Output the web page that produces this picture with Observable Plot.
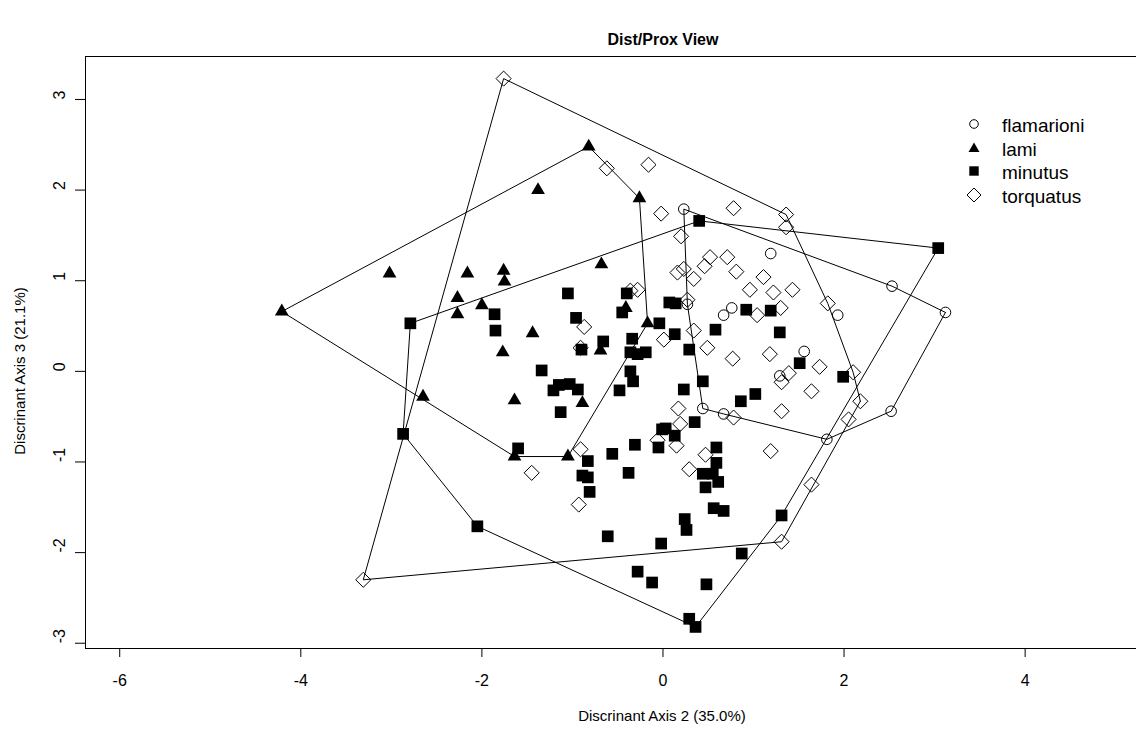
<!DOCTYPE html>
<html>
<head>
<meta charset="utf-8">
<script src="https://cdn.jsdelivr.net/npm/d3@7"></script>
<script src="https://cdn.jsdelivr.net/npm/@observablehq/plot@0.6"></script>
<style>
  html, body { margin: 0; padding: 0; background: #fff; }
  body { font-family: "Liberation Sans", Arial, Helvetica, sans-serif; color: #000; }
  #wrap { position: relative; width: 1136px; height: 733px; overflow: hidden; }
  #title { position: absolute; left: 463px; width: 400px; top: 30px; text-align: center;
           font-weight: bold; font-size: 16px; line-height: 20px; }
  #xtitle { position: absolute; left: 462px; width: 400px; top: 706px; text-align: center;
            font-size: 15px; line-height: 20px; }
  #ytitle { position: absolute; left: 20px; top: 371px; white-space: nowrap;
            transform: translate(-50%, -50%) rotate(-90deg); font-size: 15px; line-height: 20px; }
  .lg { position: absolute; left: 964px; height: 24px; line-height: 24px; font-size: 19px; white-space: nowrap; }
  .lg svg { position: absolute; left: 0; top: 0; }
  .lg span { position: absolute; left: 38px; top: 2px; }
</style>
</head>
<body>
<div id="wrap">
  <div id="chart"></div>
  <div id="title"></div>
  <div id="xtitle"></div>
  <div id="ytitle"></div>
  <div id="legend"></div>
</div>
<script>
// ---- data (Discriminant Axis 2 = x, Discriminant Axis 3 = y) ----
const titleText = "Dist/Prox View";
const xLabel = "Discrinant Axis 2 (35.0%)";
const yLabel = "Discrinant Axis 3 (21.1%)";
const speciesNames = ["flamarioni", "lami", "minutus", "torquatus"];
const xTicks = [-6, -4, -2, 0, 2, 4];
const yTicks = [-3, -2, -1, 0, 1, 2, 3];
const xDomain = [-6.378, 5.23];
const yDomain = [-3.058, 3.474];

const flamarioniX = [0.23, 1.19, 2.53, 3.12, 1.93, 0.27, 0.67, 0.76, 1.56, 1.29, 0.44, 0.67, 1.81, 2.52];
const flamarioniY = [1.79, 1.30, 0.94, 0.65, 0.62, 0.74, 0.62, 0.70, 0.22, -0.05, -0.41, -0.47, -0.75, -0.44];

const lamiX = [-4.21, -3.02, -2.16, -1.76, -1.75, -2.27, -2.27, -2.00, -1.38, -0.82, -0.26, -0.68, -0.41, -0.17, -0.69, -0.89, -1.05, -1.44, -1.77, -2.65, -1.64, -1.64];
const lamiY = [0.66, 1.08, 1.08, 1.11, 0.99, 0.81, 0.63, 0.73, 2.00, 2.48, 1.91, 1.18, 0.70, 0.53, 0.23, -0.35, -0.94, 0.42, 0.21, -0.28, -0.32, -0.94];

const minutusX = [0.40, 3.04, -1.05, -0.40, 0.07, 0.14, 0.92, 1.19, -0.45, -0.04, -0.96, -0.34, -0.66, 0.13, 0.58, 1.29, -0.90, -0.36, -0.28, -0.19, 0.29, 1.51, -1.34, -0.36, -0.33, 1.99, -1.21, -1.15, -1.03, -0.94, -0.48, 0.44, 0.23, -1.13, 0.86, 1.02, 0.35, -0.01, 0.03, 0.13, -0.05, -0.31, -0.56, -0.83, 0.59, 0.59, -0.38, -0.89, -0.83, 0.44, 0.55, 0.61, 0.47, -0.81, 0.56, 0.67, 1.31, 0.24, 0.26, -0.61, -0.02, 0.87, -0.28, -0.12, 0.48, 0.29, 0.36, -2.79, -1.86, -1.85, -2.87, -1.60, -2.05];
const minutusY = [1.66, 1.36, 0.86, 0.86, 0.76, 0.75, 0.68, 0.67, 0.65, 0.53, 0.59, 0.36, 0.33, 0.41, 0.46, 0.43, 0.24, 0.21, 0.19, 0.21, 0.24, 0.09, 0.01, 0.00, -0.11, -0.06, -0.21, -0.15, -0.14, -0.20, -0.21, -0.11, -0.20, -0.45, -0.33, -0.25, -0.56, -0.64, -0.63, -0.71, -0.84, -0.81, -0.91, -0.99, -0.84, -1.01, -1.12, -1.15, -1.17, -1.13, -1.13, -1.22, -1.28, -1.33, -1.51, -1.54, -1.59, -1.63, -1.75, -1.82, -1.90, -2.01, -2.21, -2.33, -2.35, -2.73, -2.82, 0.53, 0.63, 0.45, -0.69, -0.85, -1.71];

const torquatusX = [-1.76, -0.62, -0.16, -0.02, 0.78, 1.36, 1.36, 0.20, 0.52, 0.71, 0.46, 0.23, 0.16, 0.81, 0.34, 1.11, 0.96, 1.22, 1.43, 1.82, -0.36, -0.28, 0.27, 1.30, 1.04, -0.87, 0.01, 0.34, -0.91, 0.49, 0.77, 1.18, 1.73, 1.39, 1.31, 1.64, 0.17, 0.78, 1.31, 0.19, -0.06, 0.15, -0.91, 1.19, 0.47, 0.29, 1.64, -0.93, 1.31, 2.10, 2.18, 2.05, -1.45, -3.31];
const torquatusY = [3.23, 2.24, 2.28, 1.74, 1.80, 1.73, 1.59, 1.49, 1.26, 1.26, 1.16, 1.13, 1.09, 1.10, 1.02, 1.04, 0.90, 0.87, 0.90, 0.75, 0.89, 0.90, 0.79, 0.70, 0.62, 0.49, 0.35, 0.45, 0.26, 0.26, 0.14, 0.19, 0.05, -0.02, -0.12, -0.22, -0.41, -0.51, -0.44, -0.58, -0.76, -0.82, -0.86, -0.88, -0.92, -1.08, -1.25, -1.47, -1.88, -0.01, -0.33, -0.53, -1.12, -2.30];

// ---- build tables ----
const groups = [
  [speciesNames[0], flamarioniX, flamarioniY],
  [speciesNames[1], lamiX, lamiY],
  [speciesNames[2], minutusX, minutusY],
  [speciesNames[3], torquatusX, torquatusY]
];
const points = groups.flatMap(([s, xs, ys]) => xs.map((x, i) => ({species: s, x, y: ys[i]})));
const hullRows = groups.flatMap(([s, xs, ys]) => {
  const h = d3.polygonHull(xs.map((x, i) => [x, ys[i]]));
  h.push(h[0]);
  return h.map(([x, y]) => ({species: s, x, y}));
});
const bySpecies = s => points.filter(d => d.species === s);

const font = "'Liberation Sans', Arial, Helvetica, sans-serif";
const chart = Plot.plot({
  width: 1136,
  height: 733,
  marginLeft: 85,
  marginRight: 0,
  marginTop: 56,
  marginBottom: 85,
  x: {domain: xDomain},
  y: {domain: yDomain},
  style: {fontFamily: font, fontSize: "16px", color: "#000", background: "#fff", overflow: "visible"},
  marks: [
    Plot.ruleY([yDomain[0], yDomain[1]], {stroke: "#000", strokeWidth: 1}),
    Plot.ruleX([xDomain[0]], {stroke: "#000", strokeWidth: 1}),
    Plot.axisX(xTicks, {tickSize: 9, tickPadding: 17, tickFormat: d => String(d), fontSize: 16, label: null, stroke: "#000"}),
    Plot.axisY(yTicks, {tickSize: 10, tickFormat: () => "", label: null, stroke: "#000"}),
    Plot.text(yTicks, {y: d => d, frameAnchor: "left", rotate: -90, dx: -26, text: d => String(d), fontSize: 16, fill: "#000"}),
    Plot.line(hullRows, {x: "x", y: "y", z: "species", stroke: "#000", strokeWidth: 1}),
    Plot.dot(bySpecies("flamarioni"), {x: "x", y: "y", symbol: "circle", r: 5.3, fill: "none", stroke: "#000", strokeWidth: 1}),
    Plot.dot(bySpecies("torquatus"), {x: "x", y: "y", symbol: "diamond2", r: 6.8, fill: "none", stroke: "#000", strokeWidth: 1}),
    Plot.dot(bySpecies("lami"), {x: "x", y: "y", symbol: "triangle", r: 5.1, fill: "#000", stroke: "none"}),
    Plot.dot(bySpecies("minutus"), {x: "x", y: "y", symbol: "square", r: 6.6, fill: "#000", stroke: "none"})
  ]
});
document.getElementById("chart").appendChild(chart);

document.getElementById("title").textContent = titleText;
document.getElementById("xtitle").textContent = xLabel;
document.getElementById("ytitle").textContent = yLabel;

// ---- legend ----
const legendSymbols = [
  '<circle cx="10" cy="12" r="4.3" fill="none" stroke="#000" stroke-width="1"/>',
  '<path d="M10,6.5 L15.5,16 L4.5,16 Z" fill="#000"/>',
  '<rect x="5.3" y="7.3" width="9.4" height="9.4" fill="#000"/>',
  '<path d="M10,5 L17,12 L10,19 L3,12 Z" fill="none" stroke="#000" stroke-width="1"/>'
];
const legend = document.getElementById("legend");
speciesNames.forEach((s, i) => {
  const row = document.createElement("div");
  row.className = "lg";
  row.style.top = (112 + i * 23.6) + "px";
  row.innerHTML = `<svg width="22" height="24">${legendSymbols[i]}</svg><span>${s}</span>`;
  legend.appendChild(row);
});
</script>
</body>
</html>
